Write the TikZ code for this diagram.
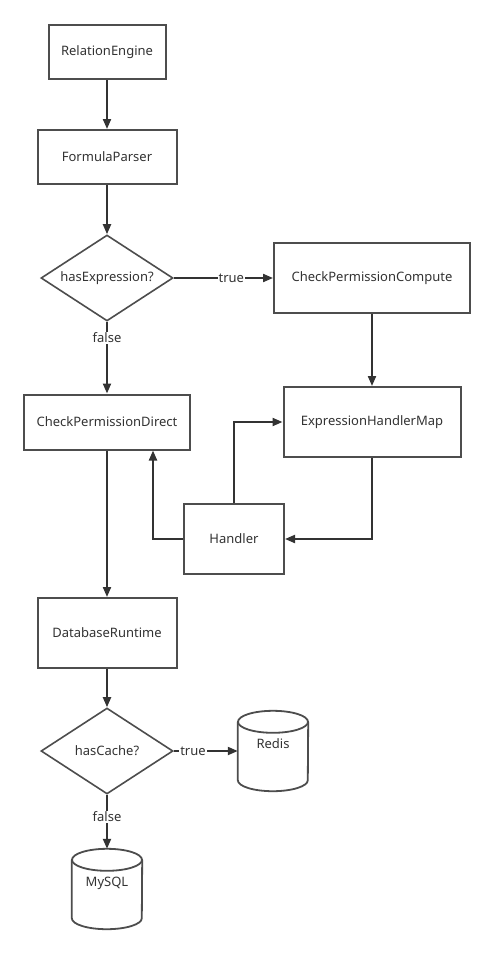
\documentclass[tikz,border=0pt]{standalone}
\usepackage{fontspec}
\setmainfont{Noto Sans}
\usetikzlibrary{arrows.meta,shapes.geometric,calc}
\definecolor{ln}{HTML}{333333}
\definecolor{bd}{HTML}{4D4D4D}
\definecolor{tx}{HTML}{333333}
\newcommand\cylshape[1]{%
  \draw[bd, line width=1.8pt] ($(#1.north)+(0,11)$) ellipse [x radius=35, y radius=11];
  \draw[bd, line width=1.8pt] ($(#1.north west)+(0,11)$) -- ($(#1.south west)+(0,-11)$)
    arc[start angle=180, end angle=0, x radius=35, y radius=11] -- ($(#1.north east)+(0,11)$);}
\begin{document}
\begin{tikzpicture}[x=1pt,y=-1pt, font=\fontsize{13}{15}\selectfont,
  box/.style={draw=bd, line width=2pt, rectangle, inner sep=0pt, text=tx},
  dec/.style={draw=bd, line width=1.6pt, diamond, inner sep=0pt, aspect=1.53, minimum width=132pt, minimum height=86pt, text=tx},
  cylnode/.style={minimum width=70pt, minimum height=80pt, inner sep=0pt, text height=9pt, text depth=15pt, text=tx},
  ar/.style={draw=ln, line width=2pt, -{Triangle[length=10pt,width=8pt]}},
  lbl/.style={fill=white, inner sep=1pt, text=tx}]
\useasboundingbox[fill=white] (0,0) rectangle (495,954);
\node[box, minimum width=117pt, minimum height=54pt] (re) at (107,52) {RelationEngine};
\node[box, minimum width=139pt, minimum height=54pt] (fp) at (107,157) {FormulaParser};
\node[dec] (d1) at (107,278) {hasExpression?};
\node[box, minimum width=196pt, minimum height=70pt] (cpc) at (372,278) {CheckPermissionCompute};
\node[box, minimum width=166pt, minimum height=55pt] (cpd) at (107,422) {CheckPermissionDirect};
\node[box, minimum width=177pt, minimum height=70pt] (ehm) at (372,422) {ExpressionHandlerMap};
\node[box, minimum width=100pt, minimum height=70pt] (h) at (234,539) {Handler};
\node[box, minimum width=139pt, minimum height=70pt] (dr) at (107,633) {DatabaseRuntime};
\node[dec] (d2) at (107,751) {hasCache?};
\node[cylnode] (redis) at (273,751) {Redis};
\node[cylnode] (mysql) at (107,889) {MySQL};
\cylshape{redis}
\cylshape{mysql}
\draw[ar] (re.south) -- (fp.north);
\draw[ar] (fp.south) -- (d1.north);
\draw[ar] (d1.east) -- node[lbl,pos=0.58]{true} (cpc.west);
\draw[ar] (d1.south) -- node[lbl,pos=0.225]{false} (cpd.north);
\draw[ar] (cpc.south) -- (ehm.north);
\draw[ar] (ehm.south) |- (h.east);
\draw[ar] (h.north) |- (ehm.west);
\path (cpd.south) ++(46,0) coordinate (hd);
\draw[ar] (h.west) -| (hd);
\draw[ar] (cpd.south) -- (dr.north);
\draw[ar] (dr.south) -- (d2.north);
\draw[ar] (d2.east) -- node[lbl,pos=0.3]{true} (redis.west);
\draw[ar] (d2.south) -- node[lbl,pos=0.41]{false} (mysql.north);
\end{tikzpicture}
\end{document}
